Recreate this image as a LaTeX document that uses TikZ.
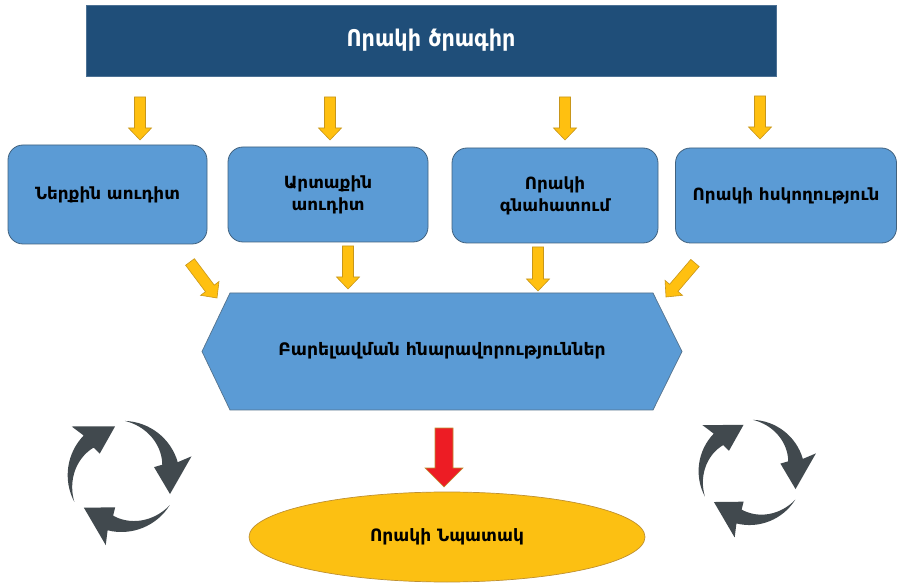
\documentclass[tikz,border=0pt]{standalone}
\usepackage{fontspec}
\setmainfont{DejaVu Sans}
\newfontfamily\narrowfont{DejaVu Sans}[FakeStretch=0.9]
\usetikzlibrary{calc,shapes.geometric}

\definecolor{bannerblue}{HTML}{1F4E79}
\definecolor{boxblue}{HTML}{5B9BD5}
\definecolor{boxedge}{HTML}{41627F}
\definecolor{arrowgold}{HTML}{FFC010}
\definecolor{arrowedge}{HTML}{C8961A}
\definecolor{goalred}{HTML}{ED1C24}
\definecolor{goalfill}{HTML}{FCC012}
\definecolor{goaledge}{HTML}{BF9030}
\definecolor{cyclegray}{HTML}{41494E}

% block arrow: style, start, end, half shaft, half head, head length
\newcommand\blkarrow[6]{%
  \coordinate (hb) at ($(#3)!#6!(#2)$);
  \draw[#1] ($(#2)!#4!90:(#3)$) -- ($(hb)!#4!90:(#3)$) -- ($(hb)!#5!90:(#3)$)
    -- (#3) -- ($(hb)!#5!-90:(#3)$) -- ($(hb)!#4!-90:(#3)$)
    -- ($(#2)!#4!-90:(#3)$) -- cycle;}

% one curved arrow of a cycle icon: centre, scale, rotation
\newcommand\cyclearrow[3]{%
  \fill[cyclegray, shift={#1}, scale=#2, rotate=#3]
    (208:58) arc[start angle=208, end angle=136, radius=60]
    -- (136:75) -- (99:53) -- (136:34) -- (136:43)
    -- plot[domain=136:208, samples=30] (\x:{43+15*(\x-136)/72}) -- cycle;}

\tikzset{
  banner/.style={fill=bannerblue, draw=bannerblue!80!white, line width=0.6pt,
    text=white, font=\narrowfont\bfseries\fontsize{23}{26}\selectfont,
    minimum width=690pt, minimum height=71pt, inner sep=0pt},
  unitbox/.style={fill=boxblue, draw=boxedge, line width=0.8pt,
    rounded corners=15pt, align=center, text=black,
    font=\bfseries\fontsize{16.8}{22}\selectfont, inner sep=0pt},
  hexbox/.style={fill=boxblue, draw=boxedge!90!white, line width=0.7pt},
  goldarrow/.style={fill=arrowgold, draw=arrowedge, line width=0.6pt},
  redarrow/.style={fill=goalred, draw=goaledge, line width=0.6pt},
  goalbox/.style={ellipse, fill=goalfill, draw=goaledge, line width=0.7pt,
    minimum width=396pt, minimum height=90pt, inner sep=0pt,
    font=\bfseries\fontsize{17}{19}\selectfont},
}

\begin{document}
\begin{tikzpicture}[x=1pt, y=1pt]
  \fill[white] (0,0) rectangle (898,582);
  \useasboundingbox (0,0) rectangle (898,582);

  % programme banner
  \node[banner] (plan) at (431,541.5) {Որակի ծրագիր};

  % four activity boxes
  \node[unitbox, minimum width=199pt, minimum height=99pt] (internal) at (107.5,387.5) {Ներքին աուդիտ};
  \node[unitbox, minimum width=200pt, minimum height=95pt] (external) at (328,387.5) {Արտաքին\\աուդիտ};
  \node[unitbox, minimum width=206pt, minimum height=95pt] (assess) at (555,386.5) {Որակի\\գնահատում};
  \node[unitbox, minimum width=221pt, minimum height=95pt] (control) at (786,386.5) {Որակի հսկողություն};

  % improvement hexagon
  \draw[hexbox] (202,230.5) -- (230,289) -- (653,289) -- (682,230.5) -- (653,172) -- (230,172) -- cycle;
  \node[font=\bfseries\fontsize{17.2}{19}\selectfont] (improve) at (442,231) {Բարելավման հնարավորություններ};

  % quality goal
  \node[goalbox] (goal) at (447,45) {Որակի Նպատակ};

  % arrow ends
  \coordinate (a1s) at (140,485); \coordinate (a1e) at (140,442);
  \coordinate (a2s) at (330,485); \coordinate (a2e) at (330,442);
  \coordinate (a3s) at (565,485); \coordinate (a3e) at (565,442);
  \coordinate (a4s) at (760,486); \coordinate (a4e) at (760,443);
  \coordinate (b1s) at (190,320); \coordinate (b1e) at (217,284);
  \coordinate (b2s) at (348,336); \coordinate (b2e) at (348,293);
  \coordinate (b3s) at (538,335); \coordinate (b3e) at (538,291);
  \coordinate (b4s) at (695,319); \coordinate (b4e) at (666,285);
  \coordinate (rs) at (444,154); \coordinate (re) at (444,95);

  \blkarrow{goldarrow}{a1s}{a1e}{5.5pt}{11.5pt}{12pt}
  \blkarrow{goldarrow}{a2s}{a2e}{5.5pt}{11.5pt}{12pt}
  \blkarrow{goldarrow}{a3s}{a3e}{5.5pt}{11.5pt}{12pt}
  \blkarrow{goldarrow}{a4s}{a4e}{5.5pt}{11.5pt}{12pt}
  \blkarrow{goldarrow}{b1s}{b1e}{5.5pt}{11.5pt}{12pt}
  \blkarrow{goldarrow}{b2s}{b2e}{5.5pt}{11.5pt}{12pt}
  \blkarrow{goldarrow}{b3s}{b3e}{5.5pt}{11.5pt}{12pt}
  \blkarrow{goldarrow}{b4s}{b4e}{5.5pt}{11.5pt}{12pt}
  \blkarrow{redarrow}{rs}{re}{9pt}{19pt}{19pt}

  % cycle icons
  \foreach \r in {0,-120,-240} {
    \cyclearrow{(123,106)}{0.95}{\r}
    \cyclearrow{(751,110)}{0.9}{\r}
  }
\end{tikzpicture}
\end{document}
